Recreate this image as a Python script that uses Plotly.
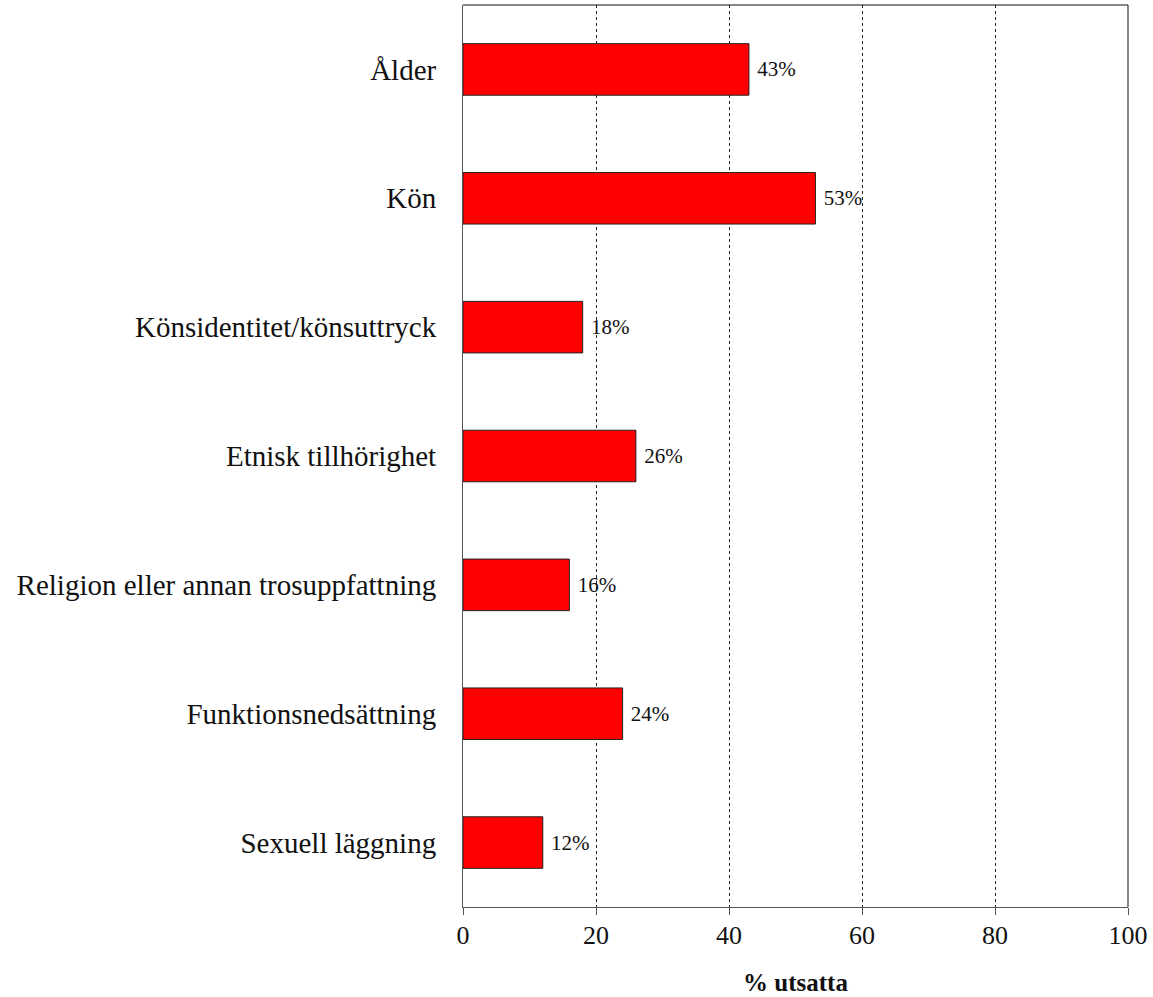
import plotly.graph_objects as go

categories = [
    "Ålder",
    "Kön",
    "Könsidentitet/könsuttryck",
    "Etnisk tillhörighet",
    "Religion eller annan trosuppfattning",
    "Funktionsnedsättning",
    "Sexuell läggning",
]
values = [43, 53, 18, 26, 16, 24, 12]
x_ticks = [0, 20, 40, 60, 80, 100]
x_title = "% utsatta"

FONT = "Liberation Serif, Times New Roman, serif"

fig = go.Figure(
    go.Bar(
        x=values,
        y=categories,
        orientation="h",
        width=0.4,
        marker=dict(color="#ff0000", line=dict(color="#222222", width=1)),
        text=[f" {v}%" for v in values],
        textposition="outside",
        textfont=dict(family=FONT, size=21, color="#111111"),
        cliponaxis=False,
    )
)

fig.update_layout(
    width=1153,
    height=997,
    margin=dict(l=463, r=24, t=5, b=86),
    paper_bgcolor="white",
    plot_bgcolor="white",
    showlegend=False,
    font=dict(family=FONT, color="#111111"),
)

fig.update_xaxes(
    range=[0, 100],
    tickvals=x_ticks,
    ticks="outside",
    ticklen=7,
    tickcolor="#555555",
    tickfont=dict(family=FONT, size=26, color="#111111"),
    ticklabelstandoff=-2,
    showgrid=True,
    gridcolor="#222222",
    griddash="dot",
    gridwidth=1,
    showline=True,
    linecolor="#555555",
    linewidth=1,
    mirror=False,
    zeroline=False,
    title=dict(
        text=f"<b>{x_title}</b>",
        font=dict(family=FONT, size=25, color="#111111"),
        standoff=24,
    ),
)

fig.update_yaxes(
    autorange="reversed",
    categoryorder="array",
    categoryarray=categories,
    tickfont=dict(family=FONT, size=29, color="#111111"),
    ticks="",
    ticklabelstandoff=20,
    showline=True,
    linecolor="#555555",
    linewidth=1,
    showgrid=False,
    zeroline=False,
)

# frame around the top and right edges of the plotting area
fig.add_shape(type="line", xref="paper", yref="paper", x0=0, x1=1, y0=1, y1=1,
              line=dict(color="#111111", width=1))
fig.add_shape(type="line", xref="paper", yref="paper", x0=1, x1=1, y0=0, y1=1,
              line=dict(color="#111111", width=1))

fig.write_html("out.html")
